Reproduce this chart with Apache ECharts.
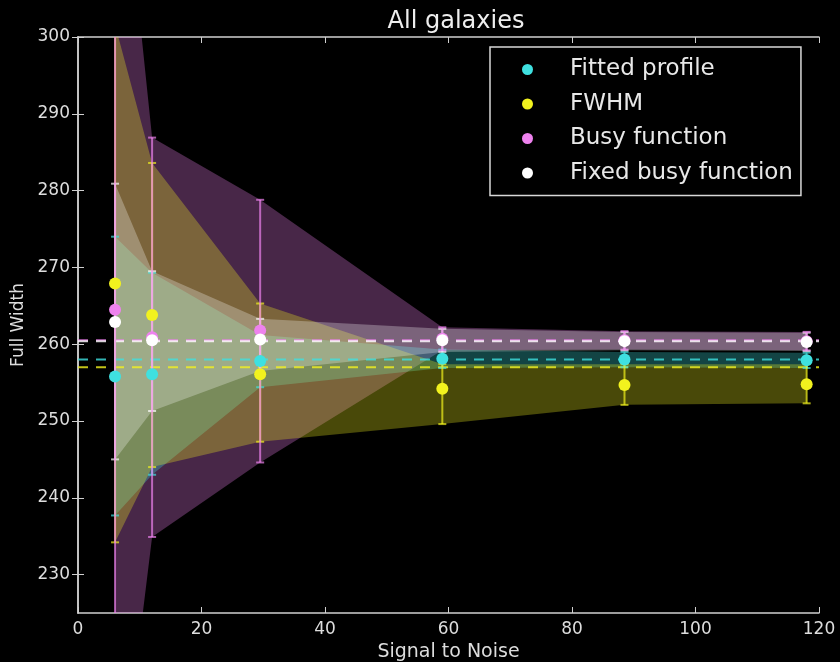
<!DOCTYPE html>
<html>
<head>
<meta charset="utf-8">
<script src="https://cdn.jsdelivr.net/npm/echarts@6/dist/echarts.min.js"></script>
<style>
html,body{margin:0;padding:0;background:#000;}
#chart{width:840px;height:662px;}
</style>
</head>
<body>
<div id="chart"></div>
<script>
// ---- data ----
const xValues = [6, 12, 29.5, 59, 88.5, 118];

const fittedMean  = [255.8, 256.1, 257.8, 258.1, 258.0, 257.9];
const fittedUpper = [274.0, 269.3, 261.2, 259.3, 259.0, 258.9];
const fittedLower = [237.7, 243.0, 254.4, 256.9, 257.0, 256.9];

const fwhmMean  = [267.9, 263.8, 256.1, 254.2, 254.7, 254.8];
const fwhmUpper = [301.6, 283.6, 265.3, 257.4, 257.4, 257.4];
const fwhmLower = [234.2, 244.0, 247.3, 249.6, 252.1, 252.3];

const busyMean  = [264.5, 260.9, 261.8, 260.7, 260.5, 260.4];
const busyUpper = [333.5, 286.9, 278.8, 262.2, 261.7, 261.6];
const busyLower = [195.5, 234.9, 244.6, 259.2, 259.3, 259.2];

const fixedMean  = [262.9, 260.5, 260.6, 260.5, 260.4, 260.3];
const fixedUpper = [280.9, 269.5, 263.3, 262.0, 261.6, 261.5];
const fixedLower = [245.0, 251.3, 256.5, 259.0, 259.2, 259.1];

const fittedRef = 258.0;
const fwhmRef = 257.0;
const busyRef = 260.5;
const fixedRef = 260.4;

const seriesNames = ['Fitted profile', 'FWHM', 'Busy function', 'Fixed busy function'];
const xTicks = [0, 20, 40, 60, 80, 100, 120];
const yTicks = [230, 240, 250, 260, 270, 280, 290, 300];
const xRange = [0, 120];
const yRange = [225, 300];

// ---- styling ----
const colors = ['#3fe0e0', '#f2f21e', '#ee82ee', '#ffffff'];
const FONT = 'DejaVu Sans';
const AX = '#d0d0d0';

const groups = [
  {name: seriesNames[0], mean: fittedMean, up: fittedUpper, lo: fittedLower, ref: fittedRef, color: colors[0]},
  {name: seriesNames[1], mean: fwhmMean, up: fwhmUpper, lo: fwhmLower, ref: fwhmRef, color: colors[1]},
  {name: seriesNames[2], mean: busyMean, up: busyUpper, lo: busyLower, ref: busyRef, color: colors[2]},
  {name: seriesNames[3], mean: fixedMean, up: fixedUpper, lo: fixedLower, ref: fixedRef, color: colors[3]}
];
// band drawing order: busy, fitted, FWHM, fixed
const bandOrder = [2, 0, 1, 3];

const series = [];

// bands (fill between)
bandOrder.forEach((gi, k) => {
  const g = groups[gi];
  series.push({
    type: 'custom',
    name: g.name + ' band',
    clip: true,
    z: 1,
    silent: true,
    data: xValues.map((x, i) => [x, g.lo[i], g.up[i]]),
    encode: {x: 0, y: [1, 2]},
    renderItem: function (params, api) {
      if (params.dataIndex !== 0) return null;
      const pts = [];
      for (let i = 0; i < xValues.length; i++) pts.push(api.coord([xValues[i], g.up[i]]));
      for (let i = xValues.length - 1; i >= 0; i--) pts.push(api.coord([xValues[i], g.lo[i]]));
      return {
        type: 'polygon',
        z2: k,
        shape: {points: pts},
        style: {fill: g.color, opacity: gi === 3 ? 0.28 : 0.3}
      };
    }
  });
});

// reference dashed lines
[2, 0, 1, 3].forEach((gi) => {
  const g = groups[gi];
  series.push({
    type: 'line',
    name: g.name + ' ref',
    z: 2,
    silent: true,
    symbol: 'none',
    data: [[xRange[0], g.ref], [xRange[1], g.ref]],
    lineStyle: {color: g.color, width: 2, type: [10, 8], opacity: 0.8}
  });
});

// error bars
[0, 1, 3, 2].forEach((gi) => {
  const g = groups[gi];
  series.push({
    type: 'custom',
    name: g.name + ' err',
    clip: true,
    z: 3,
    silent: true,
    data: xValues.map((x, i) => [x, g.lo[i], g.up[i]]),
    encode: {x: 0, y: [1, 2]},
    renderItem: function (params, api) {
      const x = api.value(0);
      const lo = api.coord([x, api.value(1)]);
      const hi = api.coord([x, api.value(2)]);
      const cw = 4;
      const st = {stroke: g.color, lineWidth: 2, opacity: 0.7};
      return {
        type: 'group',
        children: [
          {type: 'line', shape: {x1: lo[0], y1: lo[1], x2: hi[0], y2: hi[1]}, style: st},
          {type: 'line', shape: {x1: lo[0] - cw, y1: lo[1], x2: lo[0] + cw, y2: lo[1]}, style: st},
          {type: 'line', shape: {x1: hi[0] - cw, y1: hi[1], x2: hi[0] + cw, y2: hi[1]}, style: st}
        ]
      };
    }
  });
});

// points
groups.forEach((g) => {
  series.push({
    type: 'scatter',
    name: g.name,
    z: 4,
    symbol: 'circle',
    symbolSize: 12,
    itemStyle: {color: g.color, opacity: 1},
    data: xValues.map((x, i) => [x, g.mean[i]])
  });
});

const chart = echarts.init(document.getElementById('chart'), null, {renderer: 'canvas'});
chart.setOption({
  backgroundColor: '#000',
  animation: false,
  title: {
    text: 'All galaxies',
    left: 451, top: 5, textAlign: 'center',
    textStyle: {color: '#eeeeee', fontFamily: FONT, fontSize: 24, fontWeight: 'normal'}
  },
  legend: {
    orient: 'vertical',
    left: 490, top: 47,
    data: seriesNames,
    icon: 'circle',
    itemWidth: 11, itemHeight: 11,
    itemGap: 11.5,
    padding: [11, 8, 11, 32],
    borderColor: '#d8d8d8', borderWidth: 1.5,
    textStyle: {color: '#e8e8e8', fontFamily: FONT, fontSize: 23, padding: [0, 0, 0, 32]}
  },
  grid: {left: 78, right: 21, top: 37, bottom: 49, outerBoundsMode: 'none', containLabel: false},
  xAxis: [{
    type: 'value', min: xRange[0], max: xRange[1], interval: 20,
    name: 'Signal to Noise', nameLocation: 'middle', nameGap: 29,
    nameTextStyle: {color: '#dddddd', fontFamily: FONT, fontSize: 19},
    axisLine: {show: true, lineStyle: {color: AX, width: 1.5}},
    axisTick: {show: true, inside: true, length: 6, customValues: xTicks, lineStyle: {color: AX}},
    axisLabel: {color: '#dddddd', fontFamily: FONT, fontSize: 17, margin: 8, customValues: xTicks},
    splitLine: {show: false}
  }, {
    type: 'value', position: 'top', min: xRange[0], max: xRange[1], interval: 20,
    axisLine: {show: true, lineStyle: {color: AX, width: 1.5}},
    axisTick: {show: true, inside: true, length: 6, customValues: xTicks, lineStyle: {color: AX}},
    axisLabel: {show: false},
    splitLine: {show: false}
  }],
  yAxis: [{
    type: 'value', min: yRange[0], max: yRange[1],
    name: 'Full Width', nameLocation: 'middle', nameGap: 47,
    nameTextStyle: {color: '#dddddd', fontFamily: FONT, fontSize: 17},
    axisLine: {show: true, lineStyle: {color: AX, width: 1.5}},
    axisTick: {show: true, inside: true, length: 6, customValues: yTicks, lineStyle: {color: AX}},
    axisLabel: {color: '#dddddd', fontFamily: FONT, fontSize: 17, margin: 8, customValues: yTicks},
    splitLine: {show: false}
  }, {
    type: 'value', position: 'right', min: yRange[0], max: yRange[1],
    axisLine: {show: true, lineStyle: {color: AX, width: 1.5}},
    axisTick: {show: true, inside: true, length: 6, customValues: yTicks, lineStyle: {color: AX}},
    axisLabel: {show: false},
    splitLine: {show: false}
  }],
  series: series
});
</script>
</body>
</html>
